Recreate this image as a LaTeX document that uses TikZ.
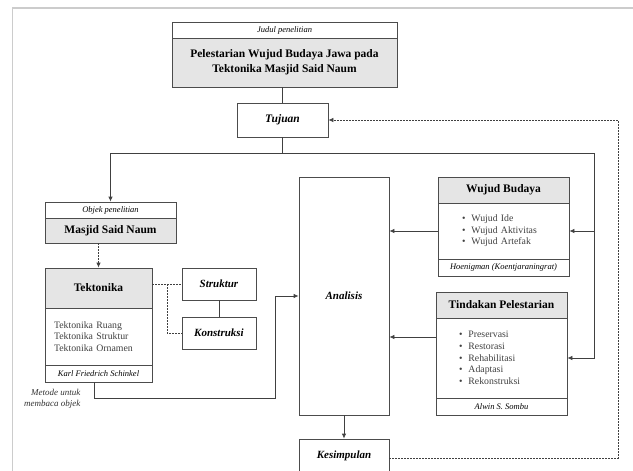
\documentclass[tikz,border=0pt]{standalone}
\usepackage{fontspec}
\setmainfont{Liberation Serif}
\usetikzlibrary{arrows.meta, positioning}

\begin{document}
\begin{tikzpicture}[x=1pt, y=-1pt, line width=0.8pt, >={Latex[length=5pt,width=4.5pt]},
    box/.style={rectangle, draw=black!70, fill=white, inner sep=0pt, align=center, text=black},
    greybox/.style={box, fill=black!10},
    headfont/.style={font=\fontsize{11.5}{15}\selectfont\bfseries},
    tagfont/.style={font=\fontsize{8.5}{10}\selectfont\itshape},
    labfont/.style={font=\fontsize{11}{13}\selectfont\bfseries\itshape},
    listbox/.style={box, align=left, font=\fontsize{9.8}{11.6}\selectfont, text=black!75},
    dotline/.style={dash pattern=on 1.6pt off 1.4pt, line width=0.8pt},
    link/.style={draw=black!75}]

\useasboundingbox (0,0) rectangle (633,471);
\clip (0,0) rectangle (633,471);

% \draw[help lines] (0,0) grid (633,471);

% FRAME
\draw[black!20, line width=1.6pt] (12.5,471) -- (12.5,8) -- (633,8);

% TITLE AND AIM
\node[box, tagfont, minimum width=225, minimum height=16] (judul) at (284.5,30) {Judul penelitian};
\node[greybox, headfont, minimum width=225, minimum height=49] (title) at (284.5,62.5) {Pelestarian Wujud Budaya Jawa pada\\Tektonika Masjid Said Naum};
\node[box, labfont, font=\fontsize{11.5}{13}\selectfont\bfseries\itshape, minimum width=91, minimum height=34] (tujuan) at (282.5,120) {Tujuan};

% OBJECT
\node[box, tagfont, minimum width=131, minimum height=16] (objekHead) at (110.5,210) {Objek penelitian};
\node[greybox, headfont, minimum width=131, minimum height=25] (masjid) at (110.5,230.5) {Masjid Said Naum};

% TECTONICS
\node[greybox, headfont, minimum width=107, minimum height=40] (tekHead) at (98.5,288) {Tektonika};
\node[listbox, text width=89, inner xsep=9, minimum height=57] (tekBody) at (98.5,336.5) {Tektonika Ruang\\Tektonika Struktur\\Tektonika Ornamen};
\node[box, tagfont, minimum width=107, minimum height=17] (tekFoot) at (98.5,373.5) {Karl Friedrich Schinkel};
\node[box, labfont, minimum width=74, minimum height=32] (struktur) at (219,284) {Struktur};
\node[box, labfont, minimum width=74, minimum height=32] (konstruksi) at (219,333) {Konstruksi};
\node[tagfont, font=\fontsize{9}{11.5}\selectfont\itshape, align=right, anchor=east, text=black!80] (metode) at (84,399) {Metode untuk\\membaca objek};

% ANALYSIS AND CONCLUSION
\node[box, labfont, minimum width=90, minimum height=238] (analisis) at (344,296) {Analisis};
\node[box, labfont, minimum width=90, minimum height=34] (kesimpulan) at (344,456) {Kesimpulan};

% CULTURE
\node[greybox, headfont, minimum width=131, minimum height=26] (wujudHead) at (503.5,190) {Wujud Budaya};
\node[listbox, text width=83, inner xsep=24, minimum height=56] (wujudBody) at (503.5,231) {\textbullet\hspace{6pt}Wujud Ide\\\textbullet\hspace{6pt}Wujud Aktivitas\\\textbullet\hspace{6pt}Wujud Artefak};
\node[box, tagfont, minimum width=131, minimum height=17] (wujudFoot) at (503.5,267.5) {Hoenigman (Koentjaraningrat)};

% PRESERVATION
\node[greybox, headfont, minimum width=131, minimum height=26] (tindHead) at (501.5,305) {Tindakan Pelestarian};
\node[listbox, text width=85, inner xsep=23, minimum height=80] (tindBody) at (501.5,358) {\textbullet\hspace{6pt}Preservasi\\\textbullet\hspace{6pt}Restorasi\\\textbullet\hspace{6pt}Rehabilitasi\\\textbullet\hspace{6pt}Adaptasi\\\textbullet\hspace{6pt}Rekonstruksi};
\node[box, tagfont, minimum width=131, minimum height=17] (tindFoot) at (501.5,406.5) {Alwin S. Sombu};

% HELPER POINTS
\coordinate (split) at (282.5,153);
\coordinate (rightTop) at (594,153);
\coordinate (bend) at (275,398);
\coordinate (tindOut) at (436,337);
\coordinate (loopR) at (618,0);
\coordinate (branch) at (167,284);

% STRAIGHT LINES
\draw[link] (tujuan.north) -- (tujuan.north |- title.south);
\draw[link] (tujuan.south) -- (split);
\draw[link] (objekHead.north |- split) -- (rightTop);
\draw[link, ->] (objekHead.north |- split) -- (objekHead.north);
\draw[link, ->] (rightTop) |- (tindBody.east);
\draw[link, ->] (rightTop |- wujudBody.east) -- (wujudBody.east);
\draw[link, ->] (wujudBody.west) -- (wujudBody.west -| analisis.east);
\draw[link, ->] (tindOut) -- (tindOut -| analisis.east);
\draw[link, ->] ([xshift=-4pt]tekFoot.south) |- (bend) |- (analisis.west);
\draw[link] (struktur.south) -- (konstruksi.north);
\draw[link, ->] (analisis.south) -- (kesimpulan.north);

% DOTTED LINES
\draw[link, dotline, ->] (masjid.south -| tekHead.north) -- (tekHead.north);
\draw[link, dotline] (tekHead.east |- struktur.west) -- (struktur.west);
\draw[link, dotline] (branch) |- (konstruksi.west);
\draw[link, dotline, ->] ([yshift=-2pt]kesimpulan.east) -| (loopR |- tujuan.east) -- (tujuan.east);

\end{tikzpicture}
\end{document}
